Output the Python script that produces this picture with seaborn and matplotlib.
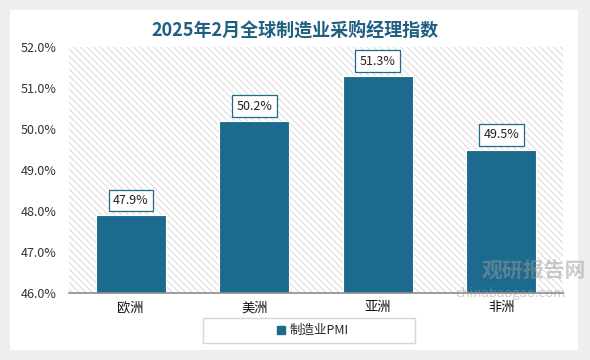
import matplotlib
matplotlib.use("Agg")
import matplotlib.pyplot as plt
import seaborn as sns
import pandas as pd
from matplotlib.patches import Rectangle
from matplotlib.lines import Line2D
import matplotlib.patheffects as pe

categories = ["欧洲", "美洲", "亚洲", "非洲"]
values = [47.9, 50.2, 51.3, 49.5]
series_name = "制造业PMI"
title = "2025年2月全球制造业采购经理指数"
yticks = [46, 47, 48, 49, 50, 51, 52]

sns.set_theme(style="white")
plt.rcParams["font.family"] = ["Noto Sans CJK SC", "DejaVu Sans"]
plt.rcParams["hatch.linewidth"] = 0.6

BAR = "#1c6b8e"
W, H = 590, 360
fig = plt.figure(figsize=(5.9, 3.6), dpi=100, facecolor="#efefef")

# white card
card = Rectangle((10 / W, 10 / H), 568 / W, 340 / H, transform=fig.transFigure,
                 facecolor="white", edgecolor="none", zorder=-10,
                 path_effects=[pe.SimplePatchShadow(offset=(0, 0), shadow_rgbFace="#cfcfcf", alpha=0.6), pe.Normal()])
fig.patches.append(card)

ax = fig.add_axes([69 / W, 1 - 293 / H, 494 / W, 246 / H])
ax.set_zorder(2)
ax.set_facecolor("none")
ax.add_patch(Rectangle((0, 0), 1, 1, transform=ax.transAxes, facecolor="white",
                       edgecolor="#d4d4d4", hatch="\\\\\\\\\\", linewidth=0, zorder=0))

df = pd.DataFrame({"region": categories, "pmi": values})
sns.barplot(data=df, x="region", y="pmi", color=BAR, width=0.57, saturation=1,
            ax=ax, zorder=3, edgecolor="white", linewidth=0.8)
for p in ax.patches[1:]:
    p.set_path_effects([pe.SimplePatchShadow(offset=(0, 0), shadow_rgbFace="#999999", alpha=0.5), pe.Normal()])

ax.set_ylim(46, 52)
ax.set_xlim(-0.5, 3.5)
ax.set_yticks(yticks)
ax.set_yticklabels([f"{v:.1f}%" for v in yticks], fontsize=9, color="#333333")
ax.tick_params(axis="y", length=0, pad=9)
ax.tick_params(axis="x", length=0, pad=6, labelsize=9.5, labelcolor="#111111")
ax.set_xlabel("")
ax.set_ylabel("")
for s in ["left", "right", "top"]:
    ax.spines[s].set_visible(False)
ax.spines["bottom"].set_color("#8c8c8c")
ax.spines["bottom"].set_linewidth(1.2)
ax.spines["bottom"].set_zorder(4)

for i, v in enumerate(values):
    ax.annotate(f"{v:.1f}%", (i, v), xytext=(0, 10.5), textcoords="offset points",
                ha="center", va="center", fontsize=9, color="#222222", zorder=5,
                bbox=dict(boxstyle="square,pad=0.35", fc="white", ec=BAR, lw=0.9))

fig.text(0.5, 1 - 30 / H, title, ha="center", va="center", fontsize=13,
         fontweight="bold", color="#1f6082")

# legend box
fig.patches.append(Rectangle((203 / W, 17 / H), 212 / W, 25 / H, transform=fig.transFigure,
                             facecolor="white", edgecolor="#d6d6d6", lw=1, zorder=-5))
handle = Line2D([], [], marker="s", linestyle="none", markersize=6,
                markerfacecolor=BAR, markeredgecolor=BAR)
fig.legend([handle], [series_name], loc="center", bbox_to_anchor=(312 / W, 29.5 / H),
           frameon=False, fontsize=9, handletextpad=0.2, handlelength=1)

# watermark
fig.text(482 / W, 1 - 270 / H, "观研报告网", fontsize=15, fontweight="bold",
         color="#9a9a9a", alpha=0.5, ha="left", va="center", zorder=10)
fig.text(455 / W, 1 - 293 / H, "chinabaogao.com", fontsize=9.5,
         color="#9a9a9a", alpha=0.5, ha="left", va="center", zorder=10)

fig.savefig("out.png", dpi=100, facecolor=fig.get_facecolor())
